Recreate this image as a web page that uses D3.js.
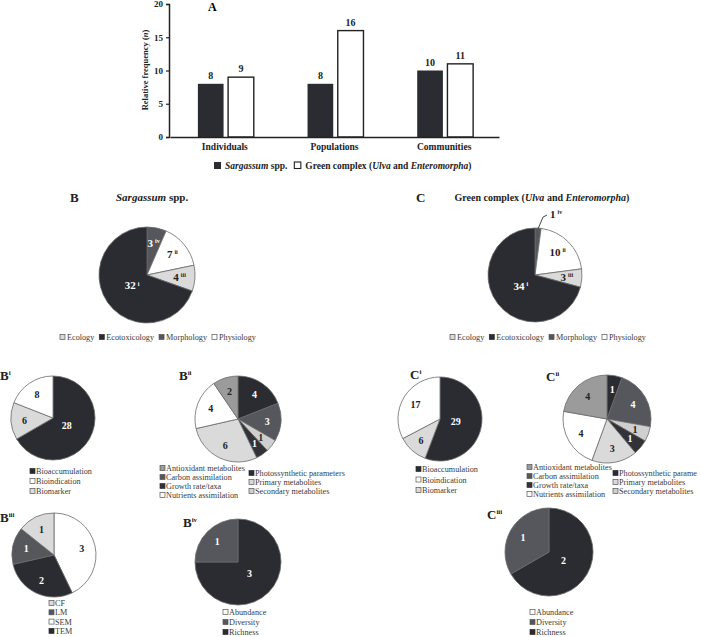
<!DOCTYPE html>
<html>
<head>
<meta charset="utf-8">
<script src="https://cdn.jsdelivr.net/npm/d3@7"></script>
<style>
  body { margin: 0; background: #fff; }
  svg { display: block; }
  svg text { font-family: "Liberation Serif", "Times New Roman", serif; }
</style>
</head>
<body>
<div id="chart"></div>
<script>
// ---- data ----
var barCategories = ["Individuals", "Populations", "Communities"];
var barSeries = ["Sargassum", "Green"];
var sargassumValues = [8, 8, 10];
var greenValues = [9, 16, 11];
var yTickValues = [0, 5, 10, 15, 20];

// main pies (B, C) - in clockwise order from 12 o'clock
var mainCats = ["Morphology", "Physiology", "Ecology", "Ecotoxicology"];
var bValues = [3, 7, 4, 32];
var cValues = [1, 10, 3, 34];
var mainSubs = ["iv", "ii", "iii", "i"];
var mainLegend = ["Ecology", "Ecotoxicology", "Morphology", "Physiology"];

// i : ecotoxicology
var iCats = ["Bioaccumulation", "Biomarker", "Bioindication"];
var biValues = [28, 6, 8];
var ciValues = [29, 6, 17];
var iLegend = ["Bioaccumulation", "Bioindication", "Biomarker"];

// ii : physiology
var iiCats = ["Photossynthetic parameters", "Carbon assimilation", "Secondary metabolites",
              "Growth rate/taxa", "Primary metabolites", "Nutrients assimilation", "Antioxidant metabolites"];
var biiValues = [4, 3, 1, 1, 6, 4, 2];
var ciiValues = [1, 4, 1, 1, 3, 4, 4];
var iiLegendLeft = ["Antioxidant metabolites", "Carbon assimilation", "Growth rate/taxa", "Nutrients assimilation"];
var iiLegendRight = ["Photossynthetic parameters", "Primary metabolites", "Secondary metabolites"];
// the C-ii legend is cut at the figure edge in the original
var ciiLegendRight = ["Photossynthetic parame", "Primary metabolites", "Secondary metabolites"];

// iii : morphology
var iiiCats = ["SEM", "TEM", "LM", "CF"];
var biiiValues = [3, 2, 1, 1];
var iiiLegend = ["CF", "LM", "SEM", "TEM"];

// iv : ecology
var ivCats = ["Richness", "Diversity"];
var bivValues = [3, 1];
var civValues = [2, 1];
var ivLegend = ["Abundance", "Diversity", "Richness"];

// ---- colours ----
var DARK = "#2b2b32", DGRAY = "#56565d", MGRAY = "#9b9b9b", LGRAY = "#dadada", WHITE = "#ffffff";
var fillOf = {
  "Ecology": LGRAY, "Ecotoxicology": DARK, "Morphology": DGRAY, "Physiology": WHITE,
  "Bioaccumulation": DARK, "Bioindication": WHITE, "Biomarker": LGRAY,
  "Photossynthetic parameters": DARK, "Photossynthetic parame": DARK,
  "Carbon assimilation": DGRAY, "Secondary metabolites": "#cfcfcf",
  "Growth rate/taxa": "#323238", "Primary metabolites": LGRAY, "Nutrients assimilation": WHITE,
  "Antioxidant metabolites": MGRAY,
  "SEM": WHITE, "TEM": DARK, "LM": DGRAY, "CF": LGRAY,
  "Richness": DARK, "Diversity": DGRAY, "Abundance": WHITE
};
var darkFills = [DARK, DGRAY, "#323238"];

var W = 701, H = 637;
var svg = d3.select("#chart").append("svg").attr("width", W).attr("height", H)
  .attr("font-family", "Liberation Serif, serif");

// ================= A : bar chart =================
var x = d3.scaleBand().domain(barCategories).range([170, 499]).paddingInner(0.49).paddingOuter(0.245);
var xInner = d3.scaleBand().domain(barSeries).range([0, x.bandwidth()]).paddingInner(0.15);
var y = d3.scaleLinear().domain([0, 20]).range([137, 4]);

var rows = barCategories.map(function(c, i) {
  return { cat: c, values: [{ s: "Sargassum", v: sargassumValues[i] }, { s: "Green", v: greenValues[i] }] };
});

var groups = svg.append("g").selectAll("g").data(rows).enter().append("g")
  .attr("transform", function(d) { return "translate(" + (x(d.cat) + 1) + ",0)"; });

groups.selectAll("rect").data(function(d) { return d.values; }).enter().append("rect")
  .attr("x", function(d) { return xInner(d.s); })
  .attr("y", function(d) { return y(d.v); })
  .attr("width", xInner.bandwidth())
  .attr("height", function(d) { return y(0) - y(d.v); })
  .attr("fill", function(d) { return d.s === "Sargassum" ? DARK : "#fff"; })
  .attr("stroke", function(d) { return d.s === "Sargassum" ? "none" : "#222"; })
  .attr("stroke-width", 1.4);

groups.selectAll("text").data(function(d) { return d.values; }).enter().append("text")
  .attr("x", function(d) { return xInner(d.s) + xInner.bandwidth() / 2; })
  .attr("y", function(d) { return y(d.v) - 5; })
  .attr("text-anchor", "middle")
  .style("font-size", "10px").style("font-weight", "bold").attr("fill", "#222")
  .text(function(d) { return d.v; });

var yAxis = svg.append("g").attr("transform", "translate(169,0)")
  .call(d3.axisLeft(y).tickValues(yTickValues).tickSize(3).tickPadding(3));
yAxis.attr("font-family", null);
yAxis.selectAll("text").style("font-size", "9px").style("font-weight", "bold").attr("fill", "#222");
yAxis.select(".domain").attr("stroke", "#222").attr("stroke-width", 1.5);
yAxis.selectAll(".tick line").attr("stroke", "#222").attr("stroke-width", 1.2);

var xAxis = svg.append("g").attr("transform", "translate(0,137)")
  .call(d3.axisBottom(x).tickSize(0).tickPadding(6).tickSizeOuter(0));
xAxis.attr("font-family", null);
xAxis.select(".domain").attr("stroke", "#222").attr("stroke-width", 1.5);
xAxis.selectAll("text").style("font-size", "9.5px").style("font-weight", "bold").attr("fill", "#222");

var yl = svg.append("text").attr("transform", "translate(148,70) rotate(-90)")
  .attr("text-anchor", "middle").style("font-size", "8.5px").style("font-weight", "bold").attr("fill", "#222");
yl.append("tspan").text("Relative frequency (");
yl.append("tspan").style("font-style", "italic").text("n");
yl.append("tspan").text(")");

svg.append("text").attr("x", 208).attr("y", 11).style("font-size", "12px").style("font-weight", "bold").text("A");

// bar legend
(function() {
  var g = svg.append("g").style("font-size", "9.5px").style("font-weight", "bold").attr("fill", "#222");
  var yy = 169;
  g.append("rect").attr("x", 214).attr("y", yy - 7).attr("width", 7).attr("height", 7).attr("fill", DARK);
  var t1 = g.append("text").attr("x", 225).attr("y", yy);
  t1.append("tspan").style("font-style", "italic").text("Sargassum");
  t1.append("tspan").text(" spp.");
  var x2 = 225 + t1.node().getComputedTextLength() + 7;
  g.append("rect").attr("x", x2).attr("y", yy - 7).attr("width", 6.5).attr("height", 6.5)
    .attr("fill", "#fff").attr("stroke", "#222").attr("stroke-width", 1.1);
  var t2 = g.append("text").attr("x", x2 + 11).attr("y", yy);
  t2.append("tspan").text("Green complex (");
  t2.append("tspan").style("font-style", "italic").text("Ulva");
  t2.append("tspan").text(" and ");
  t2.append("tspan").style("font-style", "italic").text("Enteromorpha");
  t2.append("tspan").text(")");
})();

// ================= pie helpers =================
function drawPie(cx, cy, r, cats, values, subs, fs) {
  var g = svg.append("g").attr("transform", "translate(" + cx + "," + cy + ")");
  var total = d3.sum(values);
  var arcs = d3.pie().sort(null).value(function(d) { return d; })(values);
  var arc = d3.arc().innerRadius(0).outerRadius(r);
  g.selectAll("path").data(arcs).enter().append("path")
    .attr("d", arc)
    .attr("fill", function(d, i) { return fillOf[cats[i]]; })
    .attr("stroke", "#6a6a6a").attr("stroke-width", 0.8);
  arcs.forEach(function(d, i) {
    var frac = d.value / total;
    var col = darkFills.indexOf(fillOf[cats[i]]) >= 0 ? "#fff" : "#222";
    var t;
    if (frac < 0.03) {
      // small slice: label outside with leader line
      var a = (d.startAngle + d.endAngle) / 2;
      var p0 = [Math.sin(a) * r * 0.98, -Math.cos(a) * r * 0.98];
      var p1 = [p0[0] + 5, p0[1] - 12];
      g.append("path").attr("d", "M" + p0 + "L" + p1 + "L" + [p1[0] + 4, p1[1] - 2])
        .attr("fill", "none").attr("stroke", "#333").attr("stroke-width", 0.9);
      t = g.append("text").attr("x", p1[0] + 7).attr("y", p1[1] + 1).attr("fill", "#222");
    } else {
      var k = frac > 0.5 ? 0.38 : 0.68;
      var c = d3.arc().innerRadius(r * k).outerRadius(r * k).centroid(d);
      t = g.append("text").attr("x", c[0]).attr("y", c[1] + fs * 0.35)
        .attr("text-anchor", "middle").attr("fill", col);
    }
    t.style("font-size", fs + "px").style("font-weight", "bold");
    t.append("tspan").text(d.value);
    if (subs) {
      t.append("tspan").attr("dx", 2).attr("dy", -fs * 0.35).style("font-size", (fs * 0.55) + "px").text(subs[i]);
    }
  });
}

function swatch(g, x, yBase, cat) {
  var f = fillOf[cat];
  g.append("rect").attr("x", x).attr("y", yBase - 5.5).attr("width", 5).attr("height", 5)
    .attr("fill", f).attr("stroke", f === DARK || f === "#323238" ? f : "#555").attr("stroke-width", 0.7);
}

function legendVertical(x, y0, step, items) {
  var g = svg.append("g").style("font-size", "8.2px").attr("fill", "#3a3a3a");
  items.forEach(function(it, i) {
    swatch(g, x, y0 + i * step, it);
    g.append("text").attr("x", x + 6).attr("y", y0 + i * step).text(it);
  });
}

function legendInline(x, yy, items) {
  var g = svg.append("g").style("font-size", "8.2px").attr("fill", "#3a3a3a");
  var cx = x;
  items.forEach(function(it) {
    swatch(g, cx, yy, it);
    var t = g.append("text").attr("x", cx + 7).attr("y", yy).text(it);
    cx += 7 + t.node().getComputedTextLength() + 5;
  });
}

function panelTitle(x, yy, letter, sup) {
  var t = svg.append("text").attr("x", x).attr("y", yy).style("font-size", "13px").style("font-weight", "bold").attr("fill", "#222");
  t.append("tspan").text(letter);
  if (sup) t.append("tspan").attr("dy", -5).style("font-size", "7px").text(sup);
}

// ================= B, C =================
panelTitle(70, 202, "B");
var bt = svg.append("text").attr("x", 116).attr("y", 201).style("font-size", "11px").style("font-weight", "bold").attr("fill", "#222");
bt.append("tspan").style("font-style", "italic").text("Sargassum");
bt.append("tspan").text(" spp.");
drawPie(147, 275, 48, mainCats, bValues, mainSubs, 11);
legendInline(60, 340, mainLegend);

panelTitle(416, 202, "C");
var ct = svg.append("text").attr("x", 542).attr("y", 201).attr("text-anchor", "middle")
  .style("font-size", "10px").style("font-weight", "bold").attr("fill", "#222");
ct.append("tspan").text("Green complex (");
ct.append("tspan").style("font-style", "italic").text("Ulva");
ct.append("tspan").text(" and ");
ct.append("tspan").style("font-style", "italic").text("Enteromorpha");
ct.append("tspan").text(")");
drawPie(535, 275, 47, mainCats, cValues, mainSubs, 11);
legendInline(450, 340, mainLegend);

// ================= row 2 =================
panelTitle(0, 380, "B", "i");
drawPie(53, 418, 42, iCats, biValues, null, 10);
legendVertical(30, 474, 10, iLegend);

panelTitle(179, 380, "B", "ii");
drawPie(238, 419, 43, iiCats, biiValues, null, 10);
legendVertical(160, 471, 9, iiLegendLeft);
legendVertical(249, 476, 9, iiLegendRight);

panelTitle(410, 379, "C", "i");
drawPie(440, 419, 42, iCats, ciValues, null, 10);
legendVertical(416, 472, 10.5, iLegend);

panelTitle(546, 381, "C", "ii");
drawPie(607, 419, 44, iiCats, ciiValues, null, 10);
legendVertical(527, 470, 9, iiLegendLeft);
legendVertical(613, 476, 9, ciiLegendRight);

// ================= row 3 =================
panelTitle(0, 522, "B", "iii");
drawPie(54, 555, 42, iiiCats, biiiValues, null, 10);
legendVertical(49, 606, 9.3, iiiLegend);

panelTitle(183, 527, "B", "iv");
drawPie(238, 562, 43, ivCats, bivValues, null, 10);
legendVertical(223, 615, 10, ivLegend);

panelTitle(487, 519, "C", "iii");
drawPie(549, 552, 44, ivCats, civValues, null, 10);
legendVertical(530, 615, 10, ivLegend);
</script>
</body>
</html>
